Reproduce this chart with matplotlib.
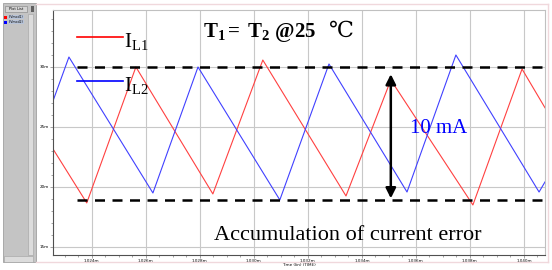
import matplotlib
matplotlib.use("Agg")
import matplotlib.pyplot as plt
from matplotlib.patches import Rectangle

plt.rcParams['mathtext.fontset'] = 'custom'
plt.rcParams['mathtext.rm'] = 'Liberation Serif'
plt.rcParams['mathtext.bf'] = 'Liberation Serif:bold'
plt.rcParams['mathtext.it'] = 'Liberation Serif:italic'

# time in microseconds, current in mA
t_L1 = [1022.56, 1023.81, 1025.63, 1028.48, 1030.33, 1033.41, 1035.07, 1038.11, 1039.93, 1040.78]
i_L1 = [23.17, 18.67, 30.00, 19.42, 30.58, 19.25, 28.92, 18.50, 29.83, 26.6]
t_L2 = [1022.56, 1023.15, 1026.26, 1027.93, 1030.96, 1032.78, 1035.67, 1037.48, 1040.56, 1040.78]
i_L2 = [27.17, 30.83, 19.50, 30.00, 18.92, 30.25, 19.58, 31.00, 19.58, 20.42]

x_ticks = [1024, 1026, 1028, 1030, 1032, 1034, 1036, 1038, 1040]
x_labels = ["1.024m", "1.026m", "1.028m", "1.030m", "1.032m", "1.034m", "1.036m", "1.038m", "1.040m"]
y_ticks = [15, 20, 25, 30]
y_labels = ["15m", "20m", "25m", "30m"]

upper_level = 30.0
lower_level = 18.92
arrow_t = 1035.07
arrow_top, arrow_bottom = 29.4, 19.05

W, H = 552, 270
fig = plt.figure(figsize=(W / 100, H / 100), dpi=100)


def fx(x):
    return x / W


def fy(y):
    return 1 - y / H


# side panel of the simulator window
fig.patches.append(Rectangle((fx(3), fy(262)), fx(33), 259 / H, transform=fig.transFigure,
                             facecolor="#c4c4c4", edgecolor="#a0a0a0", lw=0.6))
fig.patches.append(Rectangle((fx(5), fy(12)), fx(22), 6 / H, transform=fig.transFigure,
                             facecolor="#d4d4d4", edgecolor="#808080", lw=0.4))
fig.text(fx(16), fy(9), "Plot List", fontsize=2.5, ha="center", va="center")
fig.patches.append(Rectangle((fx(31), fy(12)), fx(3), 6 / H, transform=fig.transFigure,
                             facecolor="#606060", edgecolor="none"))
fig.patches.append(Rectangle((fx(28), fy(255)), fx(5), 241 / H, transform=fig.transFigure,
                             facecolor="#dcdcdc", edgecolor="#a0a0a0", lw=0.4))
fig.patches.append(Rectangle((fx(4), fy(262)), fx(29), 6 / H, transform=fig.transFigure,
                             facecolor="#dcdcdc", edgecolor="#a0a0a0", lw=0.4))
for yy, col, name in [(17, "red", "I(Vmod1)"), (22, "blue", "I(Vmod2)")]:
    fig.patches.append(Rectangle((fx(4), fy(yy + 2)), fx(3), 3 / H, transform=fig.transFigure,
                                 facecolor=col, edgecolor="none"))
    fig.patches.append(Rectangle((fx(8), fy(yy + 2)), fx(16), 4 / H, transform=fig.transFigure,
                                 facecolor="#b8c4d8", edgecolor="none"))
    fig.text(fx(9), fy(yy), name, fontsize=2.3, va="center")

# window border lines
fig.add_artist(plt.Line2D([fx(36), fx(548)], [fy(4), fy(4)], color="#f0d8dc", lw=1.0))
fig.add_artist(plt.Line2D([fx(36), fx(548)], [fy(262), fy(262)], color="#f0d8dc", lw=1.0))
fig.add_artist(plt.Line2D([fx(548), fx(548)], [fy(4), fy(262)], color="#f0d8dc", lw=1.0))

ax = fig.add_axes([fx(53), fy(255), 492 / W, 245 / H])
ax.set_xlim(1022.56, 1040.78)
ax.set_ylim(14.33, 34.75)

ax.grid(True, color="#c8c8c8", lw=0.8)
ax.set_axisbelow(True)

ax.plot(t_L1, i_L1, color="#ff4040", lw=0.8)
ax.plot(t_L2, i_L2, color="#4040ff", lw=0.8)

ax.hlines([upper_level, lower_level], 1023.44, 1040.78, colors="black",
          linestyles=(0, (4, 3)), lw=1.8)
ax.annotate("", xy=(arrow_t, arrow_top), xytext=(arrow_t, arrow_bottom),
            arrowprops=dict(arrowstyle="<|-|>", color="black", lw=1.8,
                            mutation_scale=15, shrinkA=0, shrinkB=0))

ax.set_xticks(x_ticks)
ax.set_xticklabels(x_labels)
ax.set_yticks(y_ticks)
ax.set_yticklabels(y_labels)
ax.minorticks_on()
ax.tick_params(which="both", labelsize=3, length=2, width=0.4, color="#606060", pad=1)
ax.tick_params(which="minor", length=1.2)
ax.set_xlabel("Time (lin) (TIME)", fontsize=3, labelpad=0)
ax.set_ylabel("Currents (lin)", fontsize=3, labelpad=1)
for side in ["left", "bottom"]:
    ax.spines[side].set_color("#505050")
    ax.spines[side].set_linewidth(0.8)
for side in ["top", "right"]:
    ax.spines[side].set_color("#c0c0c0")

# legend-like labels drawn on the plot
fig.add_artist(plt.Line2D([fx(77), fx(123)], [fy(37), fy(37)], color="red", lw=1.2))
fig.add_artist(plt.Line2D([fx(77), fx(123)], [fy(81), fy(81)], color="blue", lw=1.2))
fig.text(fx(124), fy(47), r"$\mathrm{I_{L1}}$", fontsize=15, va="baseline")
fig.text(fx(124), fy(91), r"$\mathrm{I_{L2}}$", fontsize=15, va="baseline")

fig.text(fx(203), fy(37), r"$\mathbf{T_1{=}\ T_2\ @25}$", fontsize=15, va="baseline")
fig.text(fx(329), fy(37), "\u2103", fontsize=16, va="baseline",
         family=["Liberation Serif", "DejaVu Serif", "Noto Sans CJK SC"])

fig.text(fx(410), fy(133), "10 mA", fontsize=15, color="blue", va="baseline",
         family="Liberation Serif")
fig.text(fx(348), fy(240), "Accumulation of current error", fontsize=16, ha="center",
         va="baseline", family="Liberation Serif")

fig.savefig("out.png", dpi=100)
